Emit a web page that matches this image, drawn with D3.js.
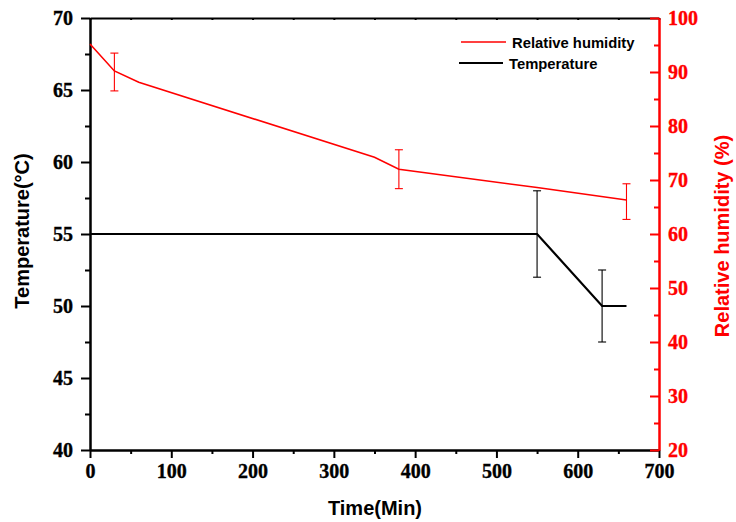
<!DOCTYPE html>
<html>
<head>
<meta charset="utf-8">
<script src="https://cdn.jsdelivr.net/npm/d3@7"></script>
<style>
  body { margin: 0; background: #fff; }
  .tick text { font-family: "Times New Roman", "Liberation Serif", serif; font-weight: bold; font-size: 20px; }
</style>
</head>
<body>
<script>
// chart data
var timeHum   = [0, 30, 60, 350, 380, 550, 660];
var humidity  = [95.2, 90.2, 88.1, 74.2, 72.0, 68.6, 66.3];
var humErrT   = [30, 380, 660];
var humErrV   = [90.0, 72.0, 66.0];
var humErrD   = [3.5, 3.6, 3.3];

var timeTemp  = [0, 550, 630, 660];
var temp      = [55, 55, 50, 50];
var tempErrT  = [550, 630];
var tempErrV  = [55, 50];
var tempErrD  = [3, 2.5];

var xTicks    = [0, 100, 200, 300, 400, 500, 600, 700];
var tTicks    = [40, 45, 50, 55, 60, 65, 70];
var hTicks    = [20, 30, 40, 50, 60, 70, 80, 90, 100];

var W = 736, H = 522;
var L = 90, R = 659, T = 18, B = 450;
var RED = "#ff0000";
var sans  = "'Liberation Sans', Arial, sans-serif";

var svg = d3.select("body").append("svg")
    .attr("width", W).attr("height", H);

var x  = d3.scaleLinear().domain([0, 700]).range([L, R]);
var yT = d3.scaleLinear().domain([40, 70]).range([B, T]);
var yH = d3.scaleLinear().domain([20, 100]).range([B, T]);

function minors(ticks) {
  var out = [];
  for (var i = 0; i < ticks.length - 1; i++) out.push((ticks[i] + ticks[i + 1]) / 2);
  return out;
}

function style(g, color) {
  g.attr("font-family", null).attr("font-size", null);
  g.selectAll("path.domain").attr("stroke", color).attr("stroke-width", 2);
  g.selectAll(".tick line").attr("stroke", color).attr("stroke-width", 2);
  g.selectAll(".tick text").attr("fill", color).attr("stroke", color).attr("stroke-width", 0.35);
}

// top border with small ticks
var gTop = svg.append("g").attr("transform", "translate(0," + T + ")")
  .call(d3.axisTop(x).tickValues(xTicks.concat(minors(xTicks))).tickSize(-2).tickSizeOuter(0).tickFormat(""));
style(gTop, "#000");

// bottom axis
var gBm = svg.append("g").attr("transform", "translate(0," + B + ")")
  .call(d3.axisBottom(x).tickValues(minors(xTicks)).tickSize(4).tickSizeOuter(0).tickFormat(""));
style(gBm, "#000");
var gB = svg.append("g").attr("transform", "translate(0," + B + ")")
  .call(d3.axisBottom(x).tickValues(xTicks).tickSize(8).tickSizeOuter(0).tickPadding(6).tickFormat(d3.format("d")));
style(gB, "#000");

// left axis (temperature)
var gLm = svg.append("g").attr("transform", "translate(" + L + ",0)")
  .call(d3.axisLeft(yT).tickValues(minors(tTicks)).tickSize(5).tickSizeOuter(0).tickFormat(""));
style(gLm, "#000");
var gL = svg.append("g").attr("transform", "translate(" + L + ",0)")
  .call(d3.axisLeft(yT).tickValues(tTicks).tickSize(9).tickSizeOuter(0).tickPadding(8).tickFormat(d3.format("d")));
style(gL, "#000");

// right axis (humidity), ticks point inward
var gRm = svg.append("g").attr("transform", "translate(" + R + ",0)")
  .call(d3.axisRight(yH).tickValues(minors(hTicks)).tickSize(-5).tickSizeOuter(0).tickFormat(""));
style(gRm, RED);
var gR = svg.append("g").attr("transform", "translate(" + R + ",0)")
  .call(d3.axisRight(yH).tickValues(hTicks).tickSize(-9).tickSizeOuter(0).tickPadding(9).tickFormat(d3.format("d")));
style(gR, RED);

// humidity line
var humPts = timeHum.map(function (t, i) { return [t, humidity[i]]; });
svg.append("path")
  .datum(humPts)
  .attr("fill", "none").attr("stroke", RED).attr("stroke-width", 1.6)
  .attr("d", d3.line().x(function (d) { return x(d[0]); }).y(function (d) { return yH(d[1]); }));

// temperature line
var tempPts = timeTemp.map(function (t, i) { return [t, temp[i]]; });
svg.append("path")
  .datum(tempPts)
  .attr("fill", "none").attr("stroke", "#000").attr("stroke-width", 2.2)
  .attr("d", d3.line().x(function (d) { return x(d[0]); }).y(function (d) { return yT(d[1]); }));

// error bars
function errBars(ts, vs, ds, scale, color) {
  var g = svg.append("g").attr("stroke", color).attr("stroke-width", 1.1).attr("fill", "none");
  ts.forEach(function (t, i) {
    var cx = x(t), y1 = scale(vs[i] + ds[i]), y2 = scale(vs[i] - ds[i]);
    g.append("line").attr("x1", cx).attr("x2", cx).attr("y1", y1).attr("y2", y2);
    g.append("line").attr("x1", cx - 4).attr("x2", cx + 4).attr("y1", y1).attr("y2", y1);
    g.append("line").attr("x1", cx - 4).attr("x2", cx + 4).attr("y1", y2).attr("y2", y2);
  });
}
errBars(humErrT, humErrV, humErrD, yH, RED);
errBars(tempErrT, tempErrV, tempErrD, yT, "#000");

// legend
var leg = svg.append("g");
leg.append("line").attr("x1", 461).attr("x2", 506).attr("y1", 42).attr("y2", 42)
  .attr("stroke", RED).attr("stroke-width", 1.6);
leg.append("text").attr("x", 512).attr("y", 48).text("Relative humidity")
  .style("font-family", sans).style("font-weight", "bold").style("font-size", "14.8px").attr("fill", "#000");
leg.append("line").attr("x1", 459).attr("x2", 503).attr("y1", 63).attr("y2", 63)
  .attr("stroke", "#000").attr("stroke-width", 2.2);
leg.append("text").attr("x", 509).attr("y", 69).text("Temperature")
  .style("font-family", sans).style("font-weight", "bold").style("font-size", "14.8px").attr("fill", "#000");

// axis titles
svg.append("text").attr("x", 375).attr("y", 515).attr("text-anchor", "middle")
  .text("Time(Min)")
  .style("font-family", sans).style("font-weight", "bold").style("font-size", "20px");
svg.append("text").attr("transform", "translate(29,231) rotate(-90)").attr("text-anchor", "middle")
  .text("Temperature(°C)")
  .style("font-family", sans).style("font-weight", "bold").style("font-size", "20px");
svg.append("text").attr("transform", "translate(729,236) rotate(-90)").attr("text-anchor", "middle")
  .attr("fill", RED)
  .text("Relative humidity (%)")
  .style("font-family", sans).style("font-weight", "bold").style("font-size", "20px");
</script>
</body>
</html>
